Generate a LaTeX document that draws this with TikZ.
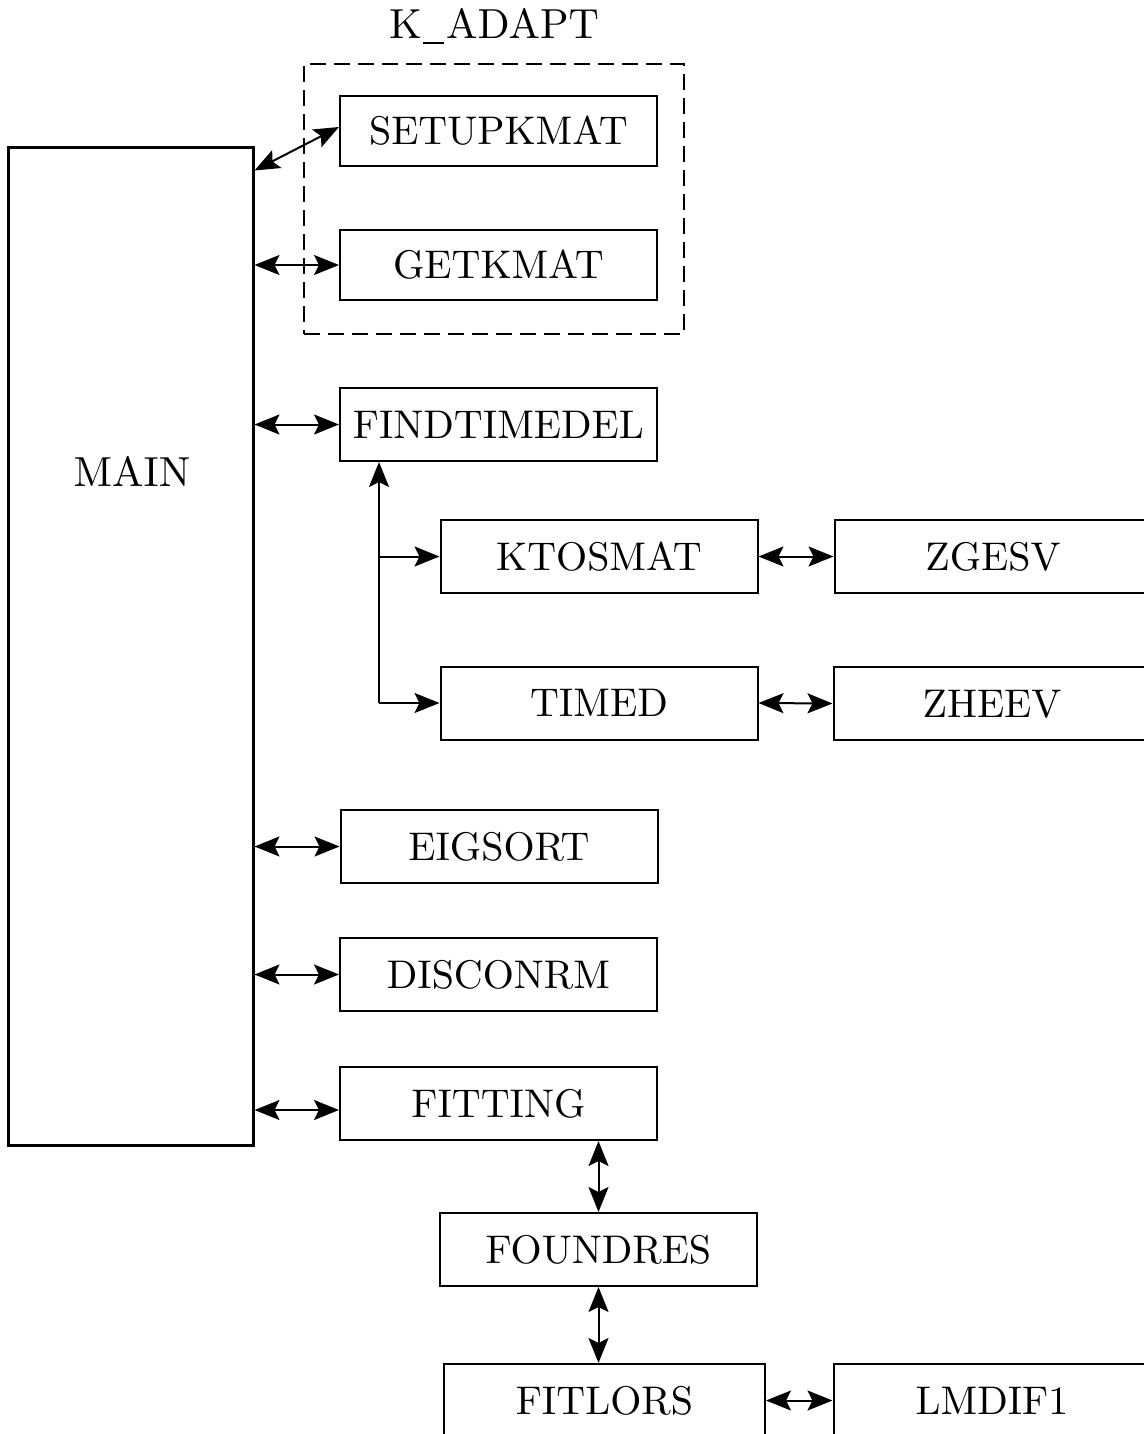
\documentclass[tikz,border=0pt]{standalone}
\usetikzlibrary{arrows.meta,calc}
\font\boxfont=cmr10 at 20pt
\font\lblfont=cmr10 at 21pt
\begin{document}
\begin{tikzpicture}[x=0.5pt,y=-0.5pt,
  tip/.tip={Stealth[length=12.5pt,width=10pt,inset=2.5pt]},
  box/.style={draw,line width=1pt,minimum width=158.5pt,minimum height=36.5pt,inner sep=0pt,font=\boxfont},
  dbl/.style={line width=1pt,tip-tip},
  arr/.style={line width=1pt,-tip},
  lbl/.style={font=\lblfont,inner sep=0pt}]
\useasboundingbox (0,0) rectangle (1144,1434);
\clip (0,0) rectangle (1144,1434);
% MAIN
\node[draw,line width=1.5pt,minimum width=122.5pt,minimum height=499pt,inner sep=0pt] (main) at (130.5,646) {};
\node[lbl] (mainlbl) at (132,472) {MAIN};
% K_ADAPT group
\node[draw,dashed,dash pattern=on 8pt off 4pt,line width=1pt,minimum width=190pt,minimum height=135pt,inner sep=0pt] (kadapt) at (494,199) {};
\node[lbl,anchor=south] (kadaptlbl) at (494,44) {K\kern.04em\rule[-0.12em]{0.5em}{0.04em}\kern.04em ADAPT};
\node[box,minimum height=35pt] (setup) at (498.5,131) {SETUPKMAT};
\node[box,minimum height=35pt] (get) at (498.5,265) {GETKMAT};
\node[box] (find) at (498.5,424.5) {FINDTIMEDEL};
\node[box] (ktos) at (599,556.5) {KTOSMAT};
\node[box] (zgesv) at (993,556.5) {ZGESV};
\node[box] (timed) at (599,703) {TIMED};
\node[box] (zheev) at (992,703.5) {ZHEEV};
\node[box] (eig) at (499,846.5) {EIGSORT};
\node[box] (disc) at (498.5,974.5) {DISCONRM};
\node[box] (fit) at (498.5,1103.5) {FITTING};
\node[box] (found) at (598.5,1249.5) {FOUNDRES};
\node[box,minimum width=160.5pt] (fitlors) at (604.5,1400.5) {FITLORS};
\node[box] (lmdif) at (992,1400.5) {LMDIF1};
% connectors
\draw[dbl] ([yshift=-12.5pt]main.north east) -- ([yshift=2pt]setup.west);
\draw[dbl] (main.east |- get.west) -- (get.west);
\draw[dbl] (main.east |- find.west) -- (find.west);
\coordinate (corner) at (379,703);
\draw[arr] (corner) -- (find.south -| corner);
\draw[arr] (corner) -- (timed.west);
\draw[arr] (ktos.west -| corner) -- (ktos.west);
\draw[dbl] (ktos.east) -- (zgesv.west);
\draw[dbl] (timed.east) -- (zheev.west);
\draw[dbl] (main.east |- eig.west) -- (eig.west);
\draw[dbl] (main.east |- disc.west) -- (disc.west);
\draw[dbl] (main.east |- 0,1110) -- (fit.west |- 0,1110);
\draw[dbl] (found.north |- fit.south) -- (found.north);
\draw[dbl] (found.south) -- (found.south |- fitlors.north);
\draw[dbl] (fitlors.east) -- (lmdif.west);
\end{tikzpicture}
\end{document}
